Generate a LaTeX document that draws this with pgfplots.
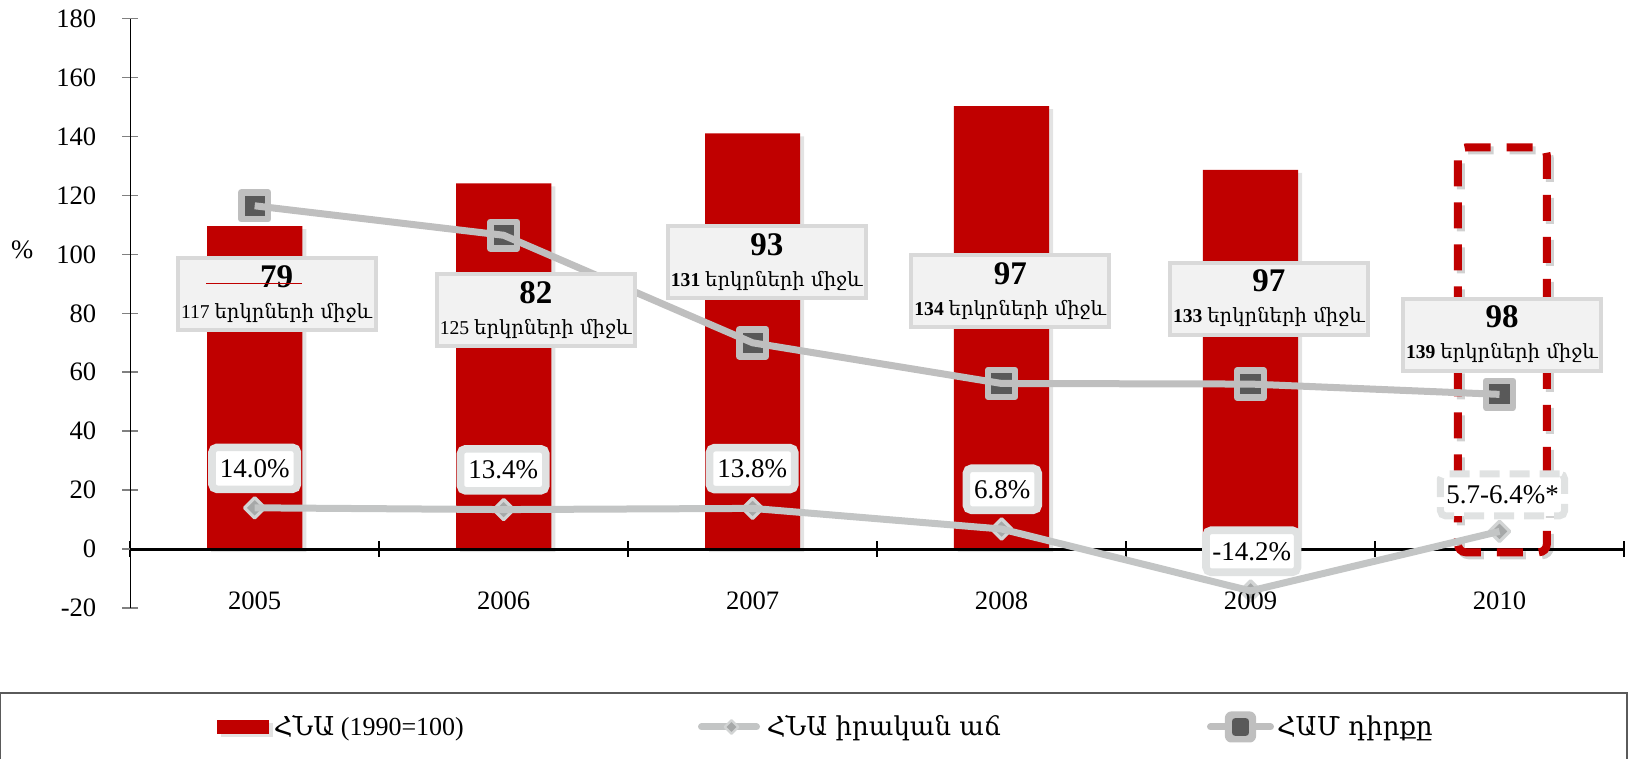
\documentclass[border=0pt]{standalone}
\usepackage{pgfplots}
\pgfplotsset{compat=1.18}
\usepackage{fontspec}
\setmainfont{Liberation Serif}
\newfontfamily\arm{DejaVu Serif}
\usetikzlibrary{shadows}
\definecolor{barred}{HTML}{C00000}
\definecolor{rankline}{HTML}{BFBFBF}
\definecolor{growline}{HTML}{C3C5C5}
\definecolor{sqfill}{HTML}{595959}
\definecolor{dmfill}{HTML}{A6A8A8}
\definecolor{dmedge}{HTML}{D2D4D4}
\definecolor{boxfill}{HTML}{F2F2F2}
\definecolor{boxedge}{HTML}{D9D9D9}
\definecolor{pctedge}{HTML}{E0E2E2}
\definecolor{legedge}{HTML}{5A5A5A}
\definecolor{tickgray}{HTML}{808080}

% two-colour square marker: dark square with a thick light-grey frame
\pgfdeclareplotmark{ranksq}{%
  \pgfsetroundjoin
  \pgfsetlinewidth{3.3pt}%
  \pgfsetfillcolor{sqfill}%
  \pgfsetstrokecolor{rankline}%
  \pgfpathmoveto{\pgfpoint{-6.7pt}{-6.7pt}}%
  \pgfpathlineto{\pgfpoint{6.7pt}{-6.7pt}}%
  \pgfpathlineto{\pgfpoint{6.7pt}{6.7pt}}%
  \pgfpathlineto{\pgfpoint{-6.7pt}{6.7pt}}%
  \pgfpathclose
  \pgfusepathqfillstroke
}

\pgfplotstableread{
x rank
0 116.5
1 106.5
2 70.0
3 56.2
4 56.0
5 52.5
}\ranktable

\tikzset{
  rankbox/.style={draw=boxedge, line width=2pt, fill=boxfill, align=center,
    minimum width=99pt, minimum height=36pt, inner sep=0pt,
    font=\fontsize{9.8}{15.5}\selectfont},
  pctbox/.style={draw=pctedge, line width=3.8pt, fill=white, rounded corners=2.5pt,
    inner xsep=3.9pt, inner ysep=0pt, minimum height=21pt,
    font=\fontsize{13.5}{15}\selectfont},
}
\newcommand{\rk}[2]{{\fontsize{16.5}{16}\selectfont\bfseries #1}\\#2 {\arm երկրների միջև}}

\begin{document}
\begin{tikzpicture}
\begin{axis}[
  name=ax, at={(0,0)}, anchor=south west,
  set layers=axis on top,
  scale only axis, width=746.9pt, height=294.65pt,
  xmin=-0.5, xmax=5.5, ymin=-20, ymax=180,
  clip=false,
  axis y line=left, axis x line=middle,
  axis line style={-},
  x axis line style={line width=1.5pt, black},
  y axis line style={line width=0.7pt, black},
  hide obscured x ticks=false, hide obscured y ticks=false,
  tick align=center,
  major tick length=8pt, minor tick length=8pt,
  ytick={-20,0,20,40,60,80,100,120,140,160,180},
  yticklabels={-20,0,20,40,60,80,100,120,140,160,180},
  y tick style={line width=0.8pt, tickgray},
  yticklabel style={anchor=east, inner sep=0pt, xshift=-12.75pt, font=\fontsize{13.3}{15}\selectfont},
  xtick={0,1,2,3,4,5},
  xticklabels={2005,2006,2007,2008,2009,2010},
  major x tick style={draw=none},
  minor xtick={-0.5,0.5,1.5,2.5,3.5,4.5,5.5},
  minor x tick style={line width=0.8pt, black},
  xticklabel style={anchor=base, inner sep=0pt, yshift=-26.4pt, font=\fontsize{13.3}{15}\selectfont},
  legend columns=3,
  legend style={at={(rel axis cs:0,0)}, anchor=west, xshift=43.4pt, yshift=-59.5pt,
    draw=none, fill=none, inner sep=0pt, outer sep=0pt,
    font=\fontsize{13}{15}\selectfont, nodes={inner sep=0pt}, column sep=0pt,
    cells={anchor=west}},
]
% GDP index bars
\addplot[ybar, bar width=47.6pt, fill=barred, draw=none,
  drop shadow={shadow xshift=2pt, shadow yshift=-1.5pt, opacity=0.22},
  legend image code/.code={\fill[barred] (0pt,-3.5pt) rectangle (26pt,3.5pt);}]
  coordinates {(0,109.6) (1,124.1) (2,141.1) (3,150.3) (4,128.7)};
\addlegendentry{\makebox[214.5pt][l]{\hspace{2.5pt}{\arm ՀՆԱ} (1990=100)}}

% 2010 dashed bar outline
\begin{pgfonlayer}{axis foreground}
\draw[black, opacity=0.18, line width=4pt, dash pattern=on 13pt off 8pt, dash phase=10pt, rounded corners=4pt]
  ([xshift=1.5pt,yshift=-1.5pt]axis cs:4.833,-1.1) rectangle ([xshift=1.5pt,yshift=-1.5pt]axis cs:5.190,136.3);
\draw[barred, line width=4pt, dash pattern=on 13pt off 8pt, dash phase=10pt, rounded corners=4pt]
  (axis cs:4.833,-1.1) rectangle (axis cs:5.190,136.3);
\end{pgfonlayer}

% real GDP growth
\addplot[on layer=axis foreground, color=growline, line width=3.5pt, line join=round,
  mark=square*, mark size=3.6pt,
  mark options={rotate=45, fill=dmfill, draw=dmedge, line width=1.6pt},
  legend image code/.code={
    \draw[growline, line width=3.5pt, line cap=round] (0pt,0pt) -- (27.5pt,0pt);
    \draw[mark=square*, mark size=2.4pt, mark options={rotate=45, fill=dmfill, draw=dmedge, line width=1.2pt}]
      plot coordinates {(15pt,0pt)};}]
  coordinates {(0,14.0) (1,13.4) (2,13.8) (3,6.8) (4,-14.2) (5,6.0)};
\addlegendentry{\makebox[223.5pt][l]{\hspace{3.5pt}{\arm ՀՆԱ իրական աճ}}}

% competitiveness rank
\addplot[on layer=axis foreground, color=rankline, line width=3.5pt, line join=round,
  mark=ranksq, mark options={solid},
  legend image code/.code={
    \draw[rankline, line width=3.5pt, line cap=round] (0pt,0pt) -- (30pt,0pt);
    \fill[rankline, rounded corners=1.2pt] (9pt,-6pt) rectangle (21pt,6pt);
    \fill[sqfill] (12.3pt,-2.7pt) rectangle (17.7pt,2.7pt);}]
  table[x=x, y=rank] {\ranktable};
\addlegendentry{\hspace{1.5pt}{\arm ՀԱՄ դիրքը}}

\begin{pgfonlayer}{axis foreground}
% rank boxes
\node[rankbox] at (axis cs:0.088,86.6) {\rk{79}{117}};
\node[rankbox] at (axis cs:1.129,81.0) {\rk{82}{125}};
\node[rankbox] at (axis cs:2.057,97.3) {\rk{93}{\textbf{131}}};
\node[rankbox] at (axis cs:3.035,87.7) {\rk{97}{\textbf{134}}};
\node[rankbox] at (axis cs:4.074,85.0) {\rk{97}{\textbf{133}}};
\node[rankbox] at (axis cs:5.010,72.8) {\rk{98}{\textbf{139}}};
\draw[barred, line width=0.6pt] (axis cs:-0.194,90.2) -- (axis cs:0.192,90.2);
% growth labels
\node[pctbox] at (axis cs:0.000,27.4) {14.0\%};
\node[pctbox] at (axis cs:0.998,26.9) {13.4\%};
\node[pctbox] at (axis cs:1.998,27.3) {13.8\%};
\node[pctbox] at (axis cs:3.003,20.3) {6.8\%};
\node[pctbox, inner xsep=3.2pt] at (axis cs:4.005,-0.75) {-14.2\%};
\node[pctbox, dash pattern=on 10pt off 5pt, line width=3.5pt, inner xsep=2.9pt] at (axis cs:5.012,18.4) {5.7-6.4\%*};
\end{pgfonlayer}

% y unit
\node[font=\fontsize{13.3}{15}\selectfont, xshift=-54pt] at (axis cs:-0.5,101.5) {\%};
% legend frame
\draw[legedge, line width=0.8pt] (rel axis cs:0,0) ++(-65.1pt,-42.5pt) rectangle ++(813.5pt,-60pt);
\end{axis}
\pgfresetboundingbox
\path[use as bounding box] (-65.1pt,-75.5pt) rectangle (751.4pt,304pt);
\end{tikzpicture}
\end{document}
